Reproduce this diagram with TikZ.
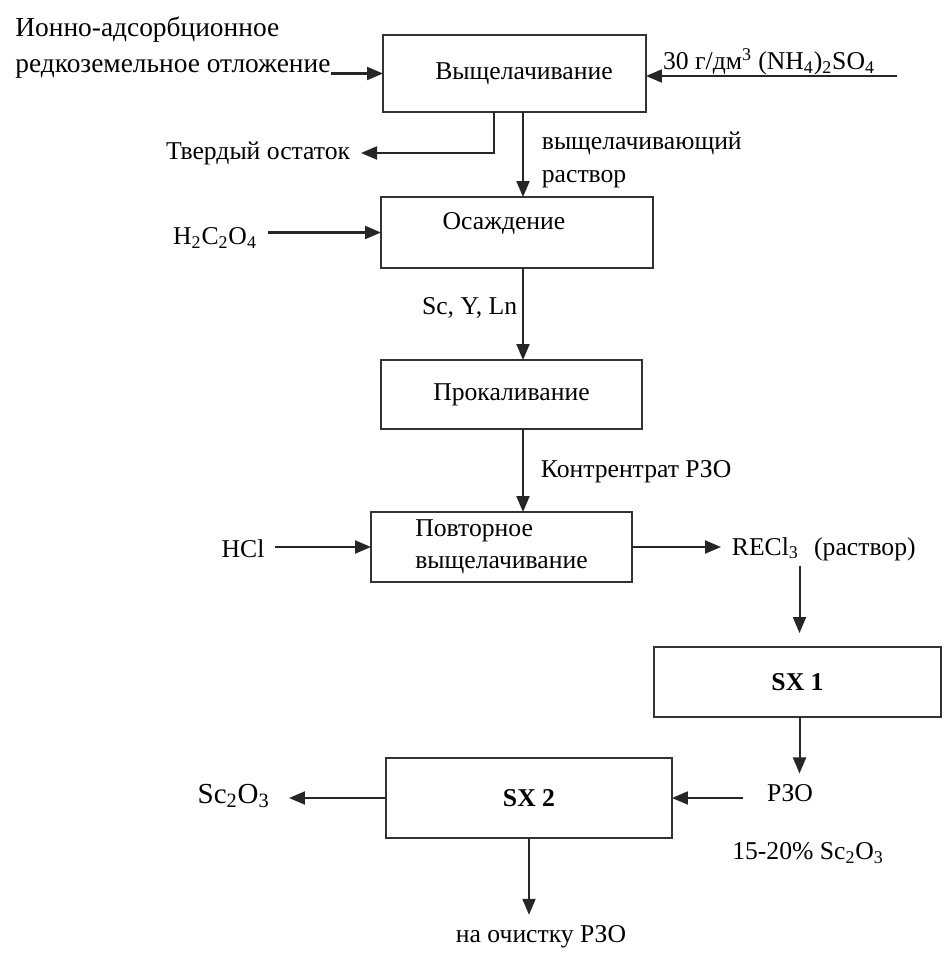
\documentclass[tikz,border=0pt]{standalone}
\usepackage{fontspec}
\setmainfont{Liberation Serif}
\usetikzlibrary{arrows.meta}
\newcommand{\ftext}{\fontsize{14.6}{18.5}\selectfont}
\newcommand{\fore}{\fontsize{15.6}{20.5}\selectfont}
\newcommand{\fbig}{\fontsize{16.5}{20}\selectfont}
\tikzset{
  box/.style={draw=black!80, line width=1.15pt, inner sep=0pt, outer sep=0pt, font=\ftext},
  lbl/.style={inner sep=6pt, font=\ftext},
  arr/.style={draw=black!85, line width=1.15pt, -{Triangle[length=0.32cm,width=0.26cm]}}
}

\begin{document}
\begin{tikzpicture}[x=0.02cm, y=-0.02cm]
\useasboundingbox (0,0) rectangle (944,956);
\node[box, minimum width=5.26cm, minimum height=1.54cm] (leach) at (514.5,73.5) {\hspace{0.38cm}Выщелачивание};
\node[box, minimum width=5.44cm, minimum height=1.42cm] (precip) at (517,232.5) {};
\node[lbl] (preciptext) at (504,223) {Осаждение};
\node[box, minimum width=5.22cm, minimum height=1.38cm] (calcin) at (511.5,394.5) {Прокаливание};
\node[box, minimum width=5.22cm, minimum height=1.40cm, align=left] (releach) at (501.5,547) {Повторное\\выщелачивание};
\node[box, minimum width=5.74cm, minimum height=1.40cm] (sx1) at (797.5,682) {\textbf{SX 1}};
\node[box, minimum width=5.72cm, minimum height=1.60cm] (sx2) at (529,798) {\textbf{SX 2}};
\coordinate (spine) at (523,0);
\coordinate (sx1x) at (799.5,0);
\node[lbl, anchor=west, align=left, inner sep=0pt, font=\fore] (ore) at (15,48) {Ионно-адсорбционное\\редкоземельное отложение};
\node[lbl] (nh4) at (769,62) {30 г/дм\textsuperscript{3} (NH\textsubscript{4})\textsubscript{2}SO\textsubscript{4}};
\coordinate (nh4in) at (897,76);
\node[lbl, anchor=east] (residue) at (361,153) {Твердый остаток};
\node[lbl, anchor=west, align=left] (leachsol) at (531,160) {выщелачивающий\\раствор};
\node[lbl] (oxal) at (215,238) {H\textsubscript{2}C\textsubscript{2}O\textsubscript{4}};
\node[lbl, anchor=east] (scyln) at (528,308) {Sc, Y, Ln};
\node[lbl, anchor=west] (conc) at (530,472) {Контрентрат РЗО};
\node[lbl] (hcl) at (243,549) {HCl};
\node[lbl, anchor=west] (recl) at (721,549) {RECl\textsubscript{3}\hspace{0.6em}(раствор)};
\node[lbl] (reo) at (790,793) {РЗО};
\node[lbl] (pct) at (808,853) {15-20\% Sc\textsubscript{2}O\textsubscript{3}};
\node[lbl, anchor=east, inner sep=0pt, font=\fbig] (sc2o3) at (270,796) {Sc\textsubscript{2}O\textsubscript{3}};
\node[lbl] (cleanup) at (541,937) {на очистку РЗО};
\draw[arr] (ore.east |- leach.west) -- (leach.west);
\draw[arr] (nh4in) -- (nh4in -| leach.east);
\draw[arr] ([xshift=-0.41cm]leach.south) |- (residue.east);
\draw[arr] (leach.south -| spine) -- (precip.north -| spine);
\draw[arr] (oxal.east |- precip.west) -- (precip.west);
\draw[arr] (precip.south -| spine) -- (calcin.north -| spine);
\draw[arr] (calcin.south -| spine) -- (releach.north -| spine);
\draw[arr] (hcl.east |- releach.west) -- (releach.west);
\draw[arr] (releach.east) -- (recl.west |- releach.east);
\draw[arr, shorten >=0.28cm] ([yshift=0.12cm]recl.south -| sx1x) -- (sx1.north -| sx1x);
\draw[arr] (sx1.south -| sx1x) -- (reo.north -| sx1x);
\draw[arr] ([xshift=-0.26cm]reo.west |- sx2.east) -- (sx2.east);
\draw[arr] (sx2.west) -- ([xshift=0.38cm]sc2o3.east |- sx2.west);
\draw[arr] (sx2.south) -- (sx2.south |- cleanup.north);
\end{tikzpicture}
\end{document}
